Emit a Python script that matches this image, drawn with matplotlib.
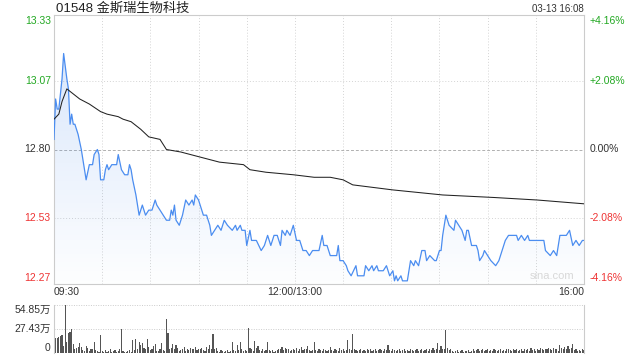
import numpy as np
import matplotlib
matplotlib.use('Agg')
import matplotlib.pyplot as plt
from matplotlib.patches import Polygon

plt.rcParams['font.family'] = ['Liberation Sans', 'Noto Sans CJK SC']

# labels
title = '01548 金斯瑞生物科技'
stamp = '03-13 16:08'
prev_close = 12.80
price_ticks = [13.33, 13.07, 12.80, 12.53, 12.27]
pct_labels = ['+4.16%', '+2.08%', '0.00%', '-2.08%', '-4.16%']
time_ticks = [0, 150, 330]
time_labels = ['09:30', '12:00/13:00', '16:00']
vol_ticks = [54.85, 27.43, 0]
vol_labels = ['54.85万', '27.43万', '0']

# price (minutes since 09:30, lunch removed)
price_min = [0, 1, 2, 3, 5, 6, 8, 9, 10, 11, 12, 13, 15, 17, 20, 22, 24, 25, 27, 28,
             29, 31, 32, 33, 34, 36, 39, 40, 42, 44, 46, 47, 48, 49, 51, 53, 55, 57, 59, 61,
             63, 64, 66, 68, 70, 72, 73, 74, 75, 76, 78, 80, 82, 84, 86, 87, 88, 90, 92, 93,
             95, 97, 98, 100, 102, 104, 106, 108, 111, 113, 114, 116, 117, 119, 120, 122, 123, 126, 129, 131,
             133, 135, 137, 139, 141, 142, 144, 145, 147, 149, 151, 153, 155, 157, 159, 161, 163, 165, 167, 168,
             170, 172, 176, 177, 178, 180, 182, 183, 185, 188, 189, 191, 193, 194, 196, 198, 199, 201, 202, 205,
             207, 209, 211, 212, 213, 214, 216, 217, 220, 221, 222, 224, 225, 227, 229, 231, 232, 234, 237, 238,
             240, 241, 242, 244, 246, 249, 250, 252, 254, 256, 257, 258, 260, 263, 264, 265, 267, 268, 270, 272,
             275, 277, 279, 281, 283, 288, 289, 291, 293, 295, 296, 305, 306, 309, 311, 313, 315, 319, 321, 323,
             325, 327, 329, 330]
price = [12.84, 13.00, 12.96, 12.96, 13.08, 13.18, 13.08, 13.04, 12.90, 12.94, 12.90, 12.90, 12.86, 12.80, 12.68, 12.74, 12.74, 12.78, 12.80, 12.78,
         12.68, 12.68, 12.72, 12.74, 12.72, 12.74, 12.74, 12.78, 12.72, 12.70, 12.70, 12.74, 12.72, 12.68, 12.62, 12.54, 12.58, 12.54, 12.56, 12.56,
         12.60, 12.58, 12.56, 12.54, 12.52, 12.52, 12.56, 12.54, 12.58, 12.52, 12.50, 12.54, 12.60, 12.58, 12.60, 12.58, 12.62, 12.60, 12.56, 12.54,
         12.54, 12.50, 12.46, 12.48, 12.50, 12.48, 12.52, 12.50, 12.48, 12.50, 12.48, 12.50, 12.48, 12.48, 12.42, 12.48, 12.44, 12.44, 12.40, 12.42,
         12.46, 12.42, 12.46, 12.46, 12.42, 12.48, 12.46, 12.48, 12.46, 12.50, 12.44, 12.44, 12.40, 12.40, 12.38, 12.40, 12.40, 12.40, 12.46, 12.42,
         12.42, 12.38, 12.38, 12.42, 12.36, 12.36, 12.34, 12.32, 12.30, 12.34, 12.30, 12.30, 12.30, 12.34, 12.32, 12.34, 12.32, 12.34, 12.32, 12.32,
         12.34, 12.30, 12.32, 12.28, 12.30, 12.28, 12.30, 12.28, 12.28, 12.32, 12.36, 12.34, 12.36, 12.34, 12.40, 12.40, 12.36, 12.38, 12.36, 12.36,
         12.40, 12.40, 12.46, 12.54, 12.50, 12.48, 12.52, 12.50, 12.48, 12.44, 12.48, 12.48, 12.42, 12.42, 12.40, 12.36, 12.38, 12.40, 12.38, 12.36,
         12.34, 12.36, 12.40, 12.44, 12.46, 12.46, 12.44, 12.46, 12.44, 12.46, 12.44, 12.44, 12.40, 12.38, 12.40, 12.38, 12.46, 12.46, 12.48, 12.42,
         12.44, 12.42, 12.44, 12.44]

# average price
avg_min = [0, 3, 5, 8, 10, 16, 22, 29, 33, 40, 43, 48, 54, 59, 66, 70, 79, 91, 97, 103,
           118, 122, 132, 149, 162, 172, 180, 186, 211, 242, 274, 301, 330]
avg = [12.92, 12.94, 12.99, 13.04, 13.03, 13.00, 12.98, 12.95, 12.94, 12.93, 12.92, 12.91, 12.88, 12.85, 12.84, 12.80, 12.79, 12.77, 12.76, 12.75,
       12.74, 12.72, 12.71, 12.70, 12.69, 12.69, 12.68, 12.66, 12.64, 12.62, 12.61, 12.60, 12.585]

# volume per minute (万)
volume = [28, 17, 17, 18, 19, 21, 8, 55, 12, 23,
          24, 27, 10, 5, 6, 7, 11, 7, 3, 2,
          8, 6, 2, 4, 5, 12, 3, 2, 1, 21,
          2, 1, 3, 1, 2, 4, 1, 2, 3, 1,
          2, 4, 27, 2, 1, 1, 2, 3, 1, 15,
          3, 16, 5, 13, 9, 11, 6, 4, 16, 7,
          3, 4, 8, 10, 2, 2, 4, 11, 3, 2,
          39, 23, 4, 6, 10, 4, 9, 6, 2, 3,
          4, 7, 2, 5, 3, 6, 4, 5, 7, 3,
          5, 4, 6, 3, 2, 7, 4, 9, 5, 22,
          5, 6, 2, 1, 3, 2, 1, 2, 3, 1,
          2, 12, 3, 2, 9, 3, 12, 4, 2, 3,
          2, 28, 6, 4, 2, 14, 6, 8, 3, 2,
          4, 2, 3, 13, 3, 2, 3, 1, 2, 3,
          5, 4, 7, 3, 6, 4, 5, 2, 3, 5,
          3, 6, 2, 4, 7, 3, 5, 4, 8, 3,
          2, 3, 13, 3, 2, 4, 3, 2, 4, 3,
          2, 3, 7, 3, 2, 4, 3, 2, 6, 3,
          4, 2, 3, 15, 4, 3, 22, 4, 3, 2,
          3, 4, 2, 3, 2, 4, 3, 5, 2, 3,
          4, 2, 3, 5, 3, 2, 4, 3, 9, 3,
          2, 4, 3, 2, 3, 5, 2, 3, 4, 2,
          3, 2, 4, 3, 2, 3, 5, 2, 3, 4,
          2, 3, 5, 2, 4, 3, 6, 3, 4, 11,
          3, 8, 5, 4, 26, 6, 3, 5, 2, 1,
          2, 3, 1, 2, 3, 1, 2, 2, 3, 1,
          2, 4, 2, 3, 4, 2, 3, 5, 2, 3,
          4, 2, 3, 2, 4, 3, 2, 3, 4, 2,
          3, 2, 4, 5, 3, 2, 4, 3, 5, 2,
          3, 4, 2, 5, 3, 4, 2, 6, 3, 4,
          2, 5, 3, 6, 4, 3, 5, 4, 6, 5,
          3, 6, 4, 5, 2, 9, 6, 4, 7, 5,
          8, 4, 6, 10, 3, 4, 2, 3, 2, 4,
          3]

green = '#22a822'
red = '#ee3333'
dark = '#333333'
label_colors = [green, green, dark, red, red]
frame = '#cccccc'

fig = plt.figure(figsize=(6.4, 3.6), dpi=100)
ax = fig.add_axes([54 / 640, 76 / 360, 530 / 640, 269 / 360])
axv = fig.add_axes([54 / 640, 7 / 360, 530 / 640, 48 / 360])

lo, hi = prev_close * (1 - 0.0416), prev_close * (1 + 0.0416)
ax.set_xlim(0, 330)
ax.set_ylim(lo, hi)
ax.set_xticks([])
ax.set_yticks([])
for s in ax.spines.values():
    s.set_color(frame)
    s.set_linewidth(0.8)

# grid
for m in range(30, 330, 30):
    ax.axvline(m, color='#d4d4d4', lw=0.7, ls=(0, (1, 2)), zorder=0)
for p in price_ticks[1:-1]:
    if p == prev_close:
        ax.axhline(p, color='#b0b0b0', lw=0.7, ls=(0, (3, 2)), zorder=0)
    else:
        ax.axhline(p, color='#d4d4d4', lw=0.7, ls=(0, (1, 2)), zorder=0)

# gradient fill under price
poly = np.column_stack([[price_min[0]] + price_min + [price_min[-1]], [lo] + price + [lo]])
patch = Polygon(poly, closed=True, facecolor='none', edgecolor='none')
ax.add_patch(patch)
grad = np.zeros((100, 1, 4))
grad[..., 0] = 0.30
grad[..., 1] = 0.55
grad[..., 2] = 0.93
grad[:, 0, 3] = np.linspace(0.24, 0.01, 100)
im = ax.imshow(grad, extent=[0, 330, lo, hi], aspect='auto', origin='upper', zorder=1)
im.set_clip_path(patch)

ax.plot(price_min, price, color='#4b8df0', lw=0.9, zorder=3)
ax.plot(avg_min, avg, color='#222222', lw=0.75, zorder=3)

# axis labels
ytr = ax.get_yaxis_transform()
for i, (p, lab, c) in enumerate(zip(price_ticks, pct_labels, label_colors)):
    va = 'top' if i == 0 else ('bottom' if i == len(price_ticks) - 1 else 'center')
    ax.text(-0.006, p, f'{p:.2f}', transform=ytr, ha='right', va=va, color=c, fontsize=7.5)
    ax.text(1.01, p, lab, transform=ytr, ha='left', va=va, color=c, fontsize=7.5)

xtr = ax.get_xaxis_transform()
for m, lab, ha in zip(time_ticks, time_labels, ['left', 'center', 'right']):
    ax.text(m, -0.012, lab, transform=xtr, ha=ha, va='top', color=dark, fontsize=7.5)

ax.text(0.003, 1.022, title, transform=ax.transAxes, ha='left', va='center', color='#222222', fontsize=9.5)
ax.text(1.0, 1.022, stamp, transform=ax.transAxes, ha='right', va='center', color=dark, fontsize=7)
ax.text(0.94, 0.012, 'sina.com', transform=ax.transAxes, ha='center', va='bottom', color='#d8d8d8', fontsize=8)

# volume panel
axv.bar(np.arange(len(volume)), volume, width=0.7, color='#555555', linewidth=0)
axv.set_xlim(0, 330)
axv.set_ylim(0, vol_ticks[0])
axv.set_xticks([])
axv.set_yticks([])
for side in ['top', 'bottom']:
    axv.spines[side].set_visible(False)
for side in ['left', 'right']:
    axv.spines[side].set_color(frame)
    axv.spines[side].set_linewidth(0.8)
for v in vol_ticks[:-1]:
    axv.axhline(v, color='#cccccc', lw=0.7, ls=(0, (1, 1.5)), zorder=0, clip_on=False)
vtr = axv.get_yaxis_transform()
for i, (v, lab) in enumerate(zip(vol_ticks, vol_labels)):
    va = 'top' if i == 0 else ('bottom' if i == len(vol_ticks) - 1 else 'center')
    axv.text(-0.006, v, lab, transform=vtr, ha='right', va=va, color=dark, fontsize=7.5)

fig.savefig('out.png', dpi=100)
